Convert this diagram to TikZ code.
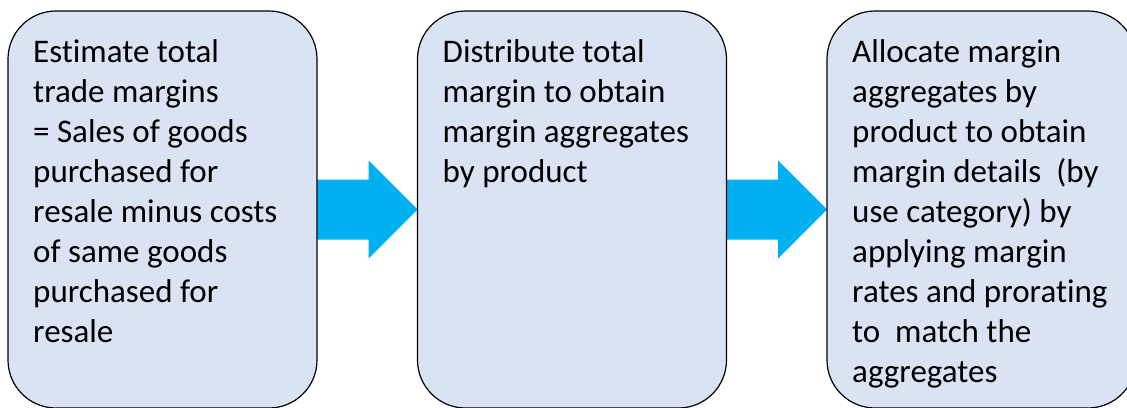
\documentclass[tikz,border=0pt]{standalone}
\usepackage{fontspec}
\setmainfont{Carlito}[Ligatures=CommonOff]
\usepackage{xcolor}
\usetikzlibrary{calc,positioning,backgrounds}
\definecolor{boxblue}{HTML}{DAE3F3}
\definecolor{arrowcyan}{HTML}{00B0F0}
\tikzset{
    stage/.style={
        draw,
        rectangle,
        rounded corners=48pt,
        fill=boxblue,
        line width=1.2pt,
        minimum width=309pt,
        minimum height=397pt,
        inner sep=0pt,
        outer sep=0pt
    },
    stagetext/.style={
        anchor=north west,
        align=left,
        inner sep=0pt,
        font=\fontsize{33}{40}\selectfont,
        execute at begin node=\strut
    },
    flow/.style={
        fill=arrowcyan
    }
}

\begin{document}
\begin{tikzpicture}[x=1pt,y=-1pt]
    \clip (0,0) rectangle (1127,407);
    \node[stage] (est) at (162.5,209.5) {};
    \node[stage] (dist) at (572,209.5) {};
    \node[stage] (alloc) at (981.5,209.5) {};

    \node[stagetext] (esttxt) at ([xshift=25pt,yshift=-28pt]est.north west)
        {Estimate total\\ trade margins\\ = Sales of goods\\ purchased for\\ resale minus costs\\ of same goods\\ purchased for\\ resale};
    \node[stagetext] (disttxt) at ([xshift=25pt,yshift=-28pt]dist.north west)
        {Distribute total\\ margin to obtain\\ margin aggregates\\ by product};
    \node[stagetext] (alloctxt) at ([xshift=25pt,yshift=-28pt]alloc.north west)
        {Allocate margin\\ aggregates by\\ product to obtain\\ margin details\ \ (by\\ use category) by\\ applying margin\\ rates and prorating\\ to\ \ match the\\ aggregates};

    \begin{scope}[on background layer]
        \fill[flow] ($(est.east)+(0,-30)$) -- ($(dist.west)+(-49,-30)$) -- ($(dist.west)+(-49,-49)$) -- (dist.west)
            -- ($(dist.west)+(-49,49)$) -- ($(dist.west)+(-49,30)$) -- ($(est.east)+(0,30)$) -- cycle;
        \fill[flow] ($(dist.east)+(0,-30)$) -- ($(alloc.west)+(-49,-30)$) -- ($(alloc.west)+(-49,-49)$) -- (alloc.west)
            -- ($(alloc.west)+(-49,49)$) -- ($(alloc.west)+(-49,30)$) -- ($(dist.east)+(0,30)$) -- cycle;
    \end{scope}
\end{tikzpicture}
\end{document}
